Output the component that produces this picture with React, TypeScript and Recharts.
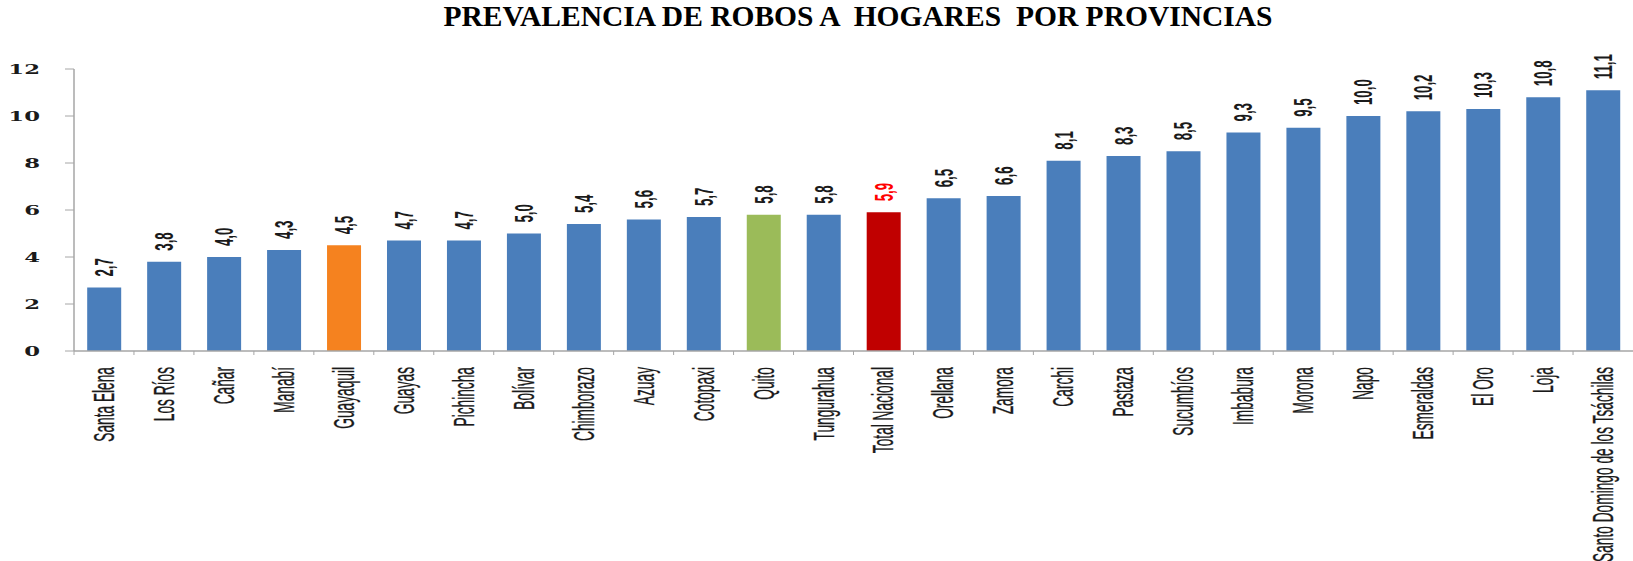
import React from 'react';
import { BarChart, Bar, XAxis, YAxis, Cell, LabelList } from 'recharts';

// provinces sorted by prevalence (%), with the national total in the middle
const provincias = [
  'Santa Elena', 'Los Ríos', 'Cañar', 'Manabí', 'Guayaquil', 'Guayas', 'Pichincha',
  'Bolívar', 'Chimborazo', 'Azuay', 'Cotopaxi', 'Quito', 'Tungurahua', 'Total Nacional',
  'Orellana', 'Zamora', 'Carchi', 'Pastaza', 'Sucumbíos', 'Imbabura', 'Morona', 'Napo',
  'Esmeraldas', 'El Oro', 'Loja', 'Santo Domingo de los Tsáchilas',
];
const prevalencia = [
  2.7, 3.8, 4.0, 4.3, 4.5, 4.7, 4.7, 5.0, 5.4, 5.6, 5.7, 5.8, 5.8, 5.9,
  6.5, 6.6, 8.1, 8.3, 8.5, 9.3, 9.5, 10.0, 10.2, 10.3, 10.8, 11.1,
];
const yTicks = [0, 2, 4, 6, 8, 10, 12];

const BLUE = '#4a7ebb';
const highlight: Record<string, string> = {
  Guayaquil: '#f5821f',
  Quito: '#9bbb59',
  'Total Nacional': '#c00000',
};
const labelColor: Record<string, string> = {
  'Total Nacional': '#ff0000',
};

const W = 1633;
const H = 561;
const PLOT_LEFT = 74;
const STEP = (W - PLOT_LEFT) / provincias.length;

const data = provincias.map((name, i) => ({ name, value: prevalencia[i] }));

const fmt = (v: number) => v.toFixed(1).replace('.', ',');

const CategoryTick = (props: any) => {
  const { x, y, payload } = props;
  const left = x - STEP / 2;
  return (
    <g>
      <line x1={left} y1={y} x2={left} y2={y + 4} stroke="#a6a6a6" strokeWidth={1} />
      <text
        transform={`translate(${x + 10},${y + 16}) rotate(-90) scale(0.49,1.05)`}
        textAnchor="end"
        fontFamily="'Liberation Sans', Arial, sans-serif"
        fontSize={28}
        fill="#1a1a1a"
        stroke="#1a1a1a"
        strokeWidth={0.3}
      >
        {payload.value}
      </text>
    </g>
  );
};

const ValueTick = (props: any) => {
  const { x, y, payload } = props;
  return (
    <text
      transform={`translate(${x - 23},${y + 5}) scale(1.75,1)`}
      textAnchor="end"
      fontFamily="'DejaVu Serif', serif"
      fontWeight="bold"
      fontSize={13}
      fill="#1a1a1a"
    >
      {payload.value}
    </text>
  );
};

const ValueLabel = (props: any) => {
  const { x, y, width, value, index } = props;
  const cx = Number(x) + Number(width) / 2;
  const name = provincias[index];
  return (
    <text
      transform={`translate(${cx + 9},${Number(y) - 11}) rotate(-90) scale(0.53,1)`}
      textAnchor="start"
      fontFamily="'Liberation Sans', Arial, sans-serif"
      fontWeight="bold"
      fontSize={25}
      fill={labelColor[name] || '#1a1a1a'}
    >
      {fmt(Number(value))}
    </text>
  );
};

export default function App() {
  return (
    <div style={{ position: 'absolute', left: 0, top: 0, width: W, height: H, background: '#fff' }}>
      <svg width={W} height={50} style={{ position: 'absolute', left: 0, top: 0 }}>
        <text
          x={858}
          y={26}
          textAnchor="middle"
          textLength={829}
          lengthAdjust="spacingAndGlyphs"
          fontFamily="'Liberation Serif', 'Times New Roman', serif"
          fontWeight="bold"
          fontSize={29}
          fill="#000"
          style={{ whiteSpace: 'pre' }}
        >
          {'PREVALENCIA DE ROBOS A  HOGARES  POR PROVINCIAS'}
        </text>
      </svg>
      <div style={{ position: 'absolute', left: 0, top: 0 }}>
        <BarChart
          width={W}
          height={H}
          data={data}
          margin={{ top: 69, right: 0, left: 0, bottom: 0 }}
          barCategoryGap="22%"
        >
          <XAxis
            dataKey="name"
            interval={0}
            height={210}
            tickLine={false}
            tickSize={0}
            tickMargin={0}
            axisLine={{ stroke: '#a6a6a6', strokeWidth: 1.5 }}
            tick={<CategoryTick />}
          />
          <YAxis
            width={PLOT_LEFT}
            domain={[0, 12]}
            ticks={yTicks}
            interval={0}
            tickSize={9}
            axisLine={{ stroke: '#a6a6a6', strokeWidth: 1.5 }}
            tickLine={{ stroke: '#a6a6a6' }}
            tick={<ValueTick />}
          />
          <Bar dataKey="value" fill={BLUE} isAnimationActive={false}>
            {data.map((d) => (
              <Cell key={d.name} fill={highlight[d.name] || BLUE} />
            ))}
            <LabelList dataKey="value" content={<ValueLabel />} />
          </Bar>
        </BarChart>
      </div>
    </div>
  );
}
